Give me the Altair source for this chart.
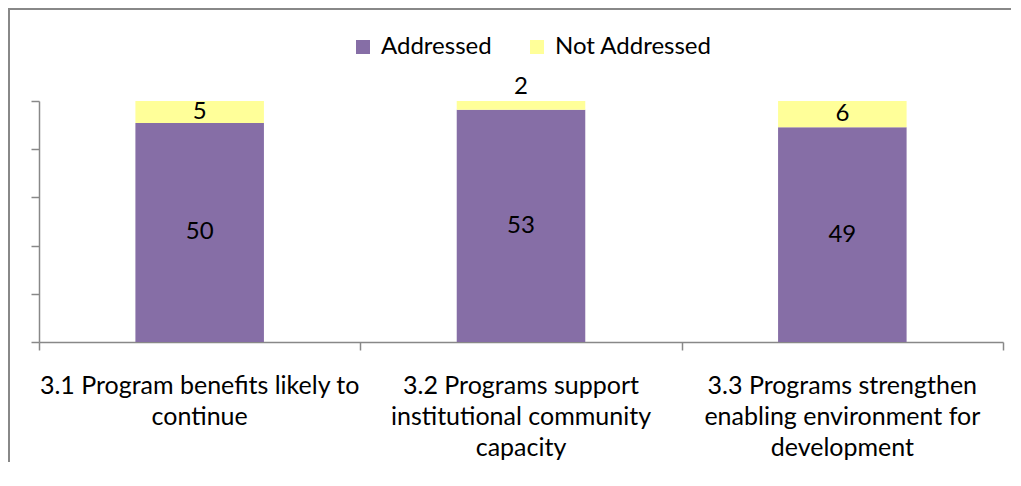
import altair as alt
import pandas as pd

categories = ["3.1", "3.2", "3.3"]
cat_labels = [
    "3.1 Program benefits likely to\ncontinue",
    "3.2 Programs support\ninstitutional community\ncapacity",
    "3.3 Programs strengthen\nenabling environment for\ndevelopment",
]
series = ["Addressed", "Not Addressed"]
addressed = [50, 53, 49]
not_addressed = [5, 2, 6]
colors = ["#866EA6", "#FFFF99"]

rows = []
for c, l, a, n in zip(categories, cat_labels, addressed, not_addressed):
    rows.append({"cat": c, "label": l, "series": series[0], "order": 0, "value": a})
    rows.append({"cat": c, "label": l, "series": series[1], "order": 1, "value": n})
df = pd.DataFrame(rows)

W, H = 964, 241
GRAY = "#888888"
FONT = "Lato"

x_axis = alt.Axis(title=None, labels=False, tickBand="extent", tickSize=8,
                  domainColor=GRAY, tickColor=GRAY, domainWidth=1.5, tickWidth=1.5)
y_axis = alt.Axis(title=None, labels=False, values=[0, 0.2, 0.4, 0.6, 0.8, 1.0],
                  grid=False, tickSize=8, domainColor=GRAY, tickColor=GRAY,
                  domainWidth=1.5, tickWidth=1.5)
x_enc = alt.X("cat:N", sort=categories,
              scale=alt.Scale(paddingInner=0, paddingOuter=0), axis=x_axis)
y_scale = alt.Scale(domain=[0, 1])

base = alt.Chart(df)

bars = base.mark_bar(width=alt.RelativeBandSize(0.4)).encode(
    x=x_enc,
    y=alt.Y("value:Q", stack="normalize", scale=y_scale, axis=y_axis),
    color=alt.Color("series:N", scale=alt.Scale(domain=series, range=colors),
                    legend=alt.Legend(orient="none", legendX=312, legendY=-66,
                                      direction="horizontal", title=None,
                                      symbolType="square", symbolSize=196,
                                      symbolStrokeWidth=0,
                                      labelFont=FONT, labelFontSize=24,
                                      labelColor="black",
                                      columnPadding=33, labelOffset=6)),
    order=alt.Order("order:Q"),
)

lab = base.transform_joinaggregate(
    total="sum(value)", groupby=["cat"]
).transform_window(
    cum="sum(value)", sort=[alt.SortField("order")], groupby=["cat"], frame=[None, 0]
).transform_calculate(
    mid="(datum.cum - datum.value/2)/datum.total",
    top="datum.cum/datum.total",
    frac="datum.value/datum.total",
)

normal_labels = lab.transform_filter("datum.frac >= 0.05").mark_text(
    font=FONT, fontSize=24, color="black"
).encode(
    x=x_enc,
    y=alt.Y("mid:Q", scale=y_scale, axis=y_axis),
    text="value:Q",
)

small_labels = lab.transform_filter("datum.frac < 0.05").mark_text(
    font=FONT, fontSize=24, color="black", baseline="bottom", dy=-2
).encode(
    x=x_enc,
    y=alt.Y("top:Q", scale=y_scale, axis=y_axis),
    text="value:Q",
)

cat_text = base.transform_filter("datum.order == 0").mark_text(
    font=FONT, fontSize=25, color="black", baseline="top", align="center",
    lineBreak="\n", lineHeight=31
).encode(
    x=x_enc,
    y=alt.value(273),
    text="label:N",
)

frame_df = pd.DataFrame({"a": [0]})
frame_left = alt.Chart(frame_df).mark_rule(color=GRAY, strokeWidth=2).encode(
    x=alt.value(-30), y=alt.value(-92), y2=alt.value(H + 120)
)
frame_top = alt.Chart(frame_df).mark_rule(color=GRAY, strokeWidth=2).encode(
    x=alt.value(-31), x2=alt.value(W + 8), y=alt.value(-92)
)

chart = alt.layer(
    bars, normal_labels, small_labels, cat_text, frame_left, frame_top
).properties(
    width=W, height=H,
    padding={"left": 31, "top": 93, "right": 8, "bottom": 120},
    autosize=alt.AutoSizeParams(type="none"),
).configure_view(stroke=None)

chart.save("out.html", embed_options={"renderer": "svg", "actions": False})
